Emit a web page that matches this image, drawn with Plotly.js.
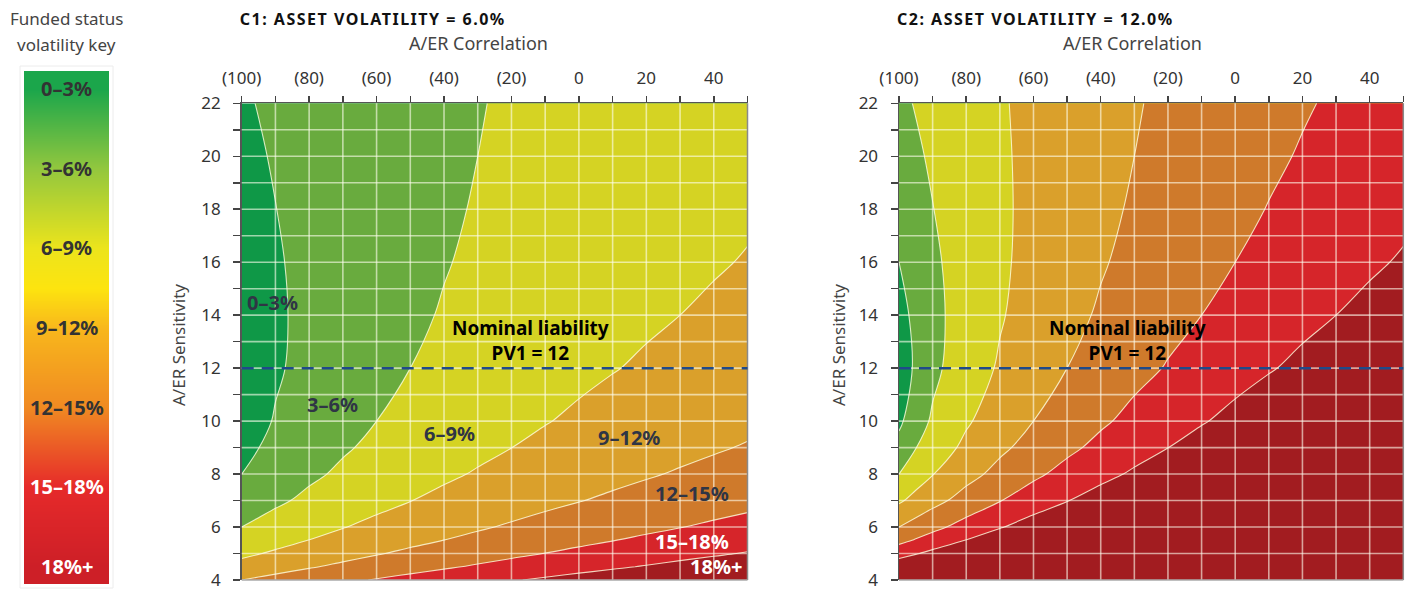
<!DOCTYPE html>
<html><head><meta charset="utf-8">
<script src="https://cdn.plot.ly/plotly-3.0.1.min.js"></script>
<style>html,body{margin:0;padding:0;background:#fff;} #chart{width:1411px;height:593px;}</style>
</head><body><div id="chart"></div>
<script>
// A/ER correlation (x) and A/ER sensitivity (y) grid
const correlation = [-100,-95,-90,-80,-70,-60,-50,-40,-30,-20,-10,0,10,20,30,40,50];
const sensitivity = [4,4.5,5,5.5,6,7,8,9,10,12,14,16,18,20,22];

// Funded status volatility (%) — C1: asset volatility 6.0%
const fsVolC1 = [
 [12.00,12.44,12.87,13.68,14.45,15.18,15.87,16.54,17.18,17.80,18.40,18.97,19.53,20.08,20.61,21.13,21.63],
 [10.00,10.47,10.92,11.76,12.55,13.30,14.00,14.67,15.31,15.92,16.52,17.09,17.64,18.18,18.70,19.20,19.70],
 [8.40,8.90,9.37,10.25,11.06,11.82,12.53,13.20,13.84,14.45,15.04,15.60,16.14,16.67,17.18,17.68,18.16],
 [7.09,7.62,8.12,9.04,9.87,10.64,11.35,12.02,12.66,13.26,13.84,14.40,14.94,15.45,15.95,16.44,16.91],
 [6.00,6.57,7.10,8.05,8.90,9.67,10.39,11.06,11.70,12.30,12.87,13.42,13.94,14.45,14.94,15.41,15.87],
 [4.29,4.95,5.54,6.56,7.44,8.23,8.95,9.61,10.24,10.82,11.38,11.91,12.42,12.90,13.37,13.83,14.27],
 [3.00,3.79,4.45,5.53,6.43,7.23,7.94,8.59,9.20,9.77,10.31,10.82,11.30,11.77,12.22,12.66,13.08],
 [2.00,2.97,3.69,4.82,5.73,6.51,7.21,7.85,8.44,8.99,9.51,10.00,10.47,10.92,11.35,11.76,12.17],
 [1.20,2.40,3.18,4.33,5.23,6.00,6.68,7.30,7.87,8.40,8.90,9.37,9.82,10.25,10.67,11.06,11.45],
 [0.00,1.90,2.68,3.79,4.65,5.37,6.00,6.57,7.10,7.59,8.05,8.49,8.90,9.30,9.67,10.04,10.39],
 [0.86,1.95,2.63,3.62,4.39,5.04,5.62,6.15,6.63,7.08,7.50,7.90,8.28,8.65,9.00,9.33,9.66],
 [1.50,2.22,2.77,3.61,4.30,4.88,5.41,5.89,6.33,6.74,7.13,7.50,7.85,8.19,8.51,8.82,9.12],
 [2.00,2.53,2.97,3.69,4.29,4.82,5.29,5.73,6.13,6.51,6.87,7.21,7.54,7.85,8.15,8.44,8.72],
 [2.40,2.81,3.18,3.79,4.33,4.80,5.23,5.63,6.00,6.35,6.68,7.00,7.30,7.59,7.87,8.14,8.40],
 [2.73,3.07,3.37,3.91,4.38,4.81,5.20,5.57,5.91,6.23,6.54,6.83,7.12,7.39,7.65,7.90,8.15]
];

// Funded status volatility (%) — C2: asset volatility 12.0%
const fsVolC2 = [
 [24.00,24.88,25.74,27.36,28.90,30.36,31.74,33.08,34.36,35.60,36.80,37.94,39.06,40.16,41.22,42.26,43.26],
 [20.00,20.94,21.84,23.52,25.10,26.60,28.00,29.34,30.62,31.84,33.04,34.18,35.28,36.36,37.40,38.40,39.40],
 [16.80,17.80,18.74,20.50,22.12,23.64,25.06,26.40,27.68,28.90,30.08,31.20,32.28,33.34,34.36,35.36,36.32],
 [14.18,15.24,16.24,18.08,19.74,21.28,22.70,24.04,25.32,26.52,27.68,28.80,29.88,30.90,31.90,32.88,33.82],
 [12.00,13.14,14.20,16.10,17.80,19.34,20.78,22.12,23.40,24.60,25.74,26.84,27.88,28.90,29.88,30.82,31.74],
 [8.58,9.90,11.08,13.12,14.88,16.46,17.90,19.22,20.48,21.64,22.76,23.82,24.84,25.80,26.74,27.66,28.54],
 [6.00,7.58,8.90,11.06,12.86,14.46,15.88,17.18,18.40,19.54,20.62,21.64,22.60,23.54,24.44,25.32,26.16],
 [4.00,5.94,7.38,9.64,11.46,13.02,14.42,15.70,16.88,17.98,19.02,20.00,20.94,21.84,22.70,23.52,24.34],
 [2.40,4.80,6.36,8.66,10.46,12.00,13.36,14.60,15.74,16.80,17.80,18.74,19.64,20.50,21.34,22.12,22.90],
 [0.00,3.80,5.36,7.58,9.30,10.74,12.00,13.14,14.20,15.18,16.10,16.98,17.80,18.60,19.34,20.08,20.78],
 [1.72,3.90,5.26,7.24,8.78,10.08,11.24,12.30,13.26,14.16,15.00,15.80,16.56,17.30,18.00,18.66,19.32],
 [3.00,4.44,5.54,7.22,8.60,9.76,10.82,11.78,12.66,13.48,14.26,15.00,15.70,16.38,17.02,17.64,18.24],
 [4.00,5.06,5.94,7.38,8.58,9.64,10.58,11.46,12.26,13.02,13.74,14.42,15.08,15.70,16.30,16.88,17.44],
 [4.80,5.62,6.36,7.58,8.66,9.60,10.46,11.26,12.00,12.70,13.36,14.00,14.60,15.18,15.74,16.28,16.80],
 [5.46,6.14,6.74,7.82,8.76,9.62,10.40,11.14,11.82,12.46,13.08,13.66,14.24,14.78,15.30,15.80,16.30]
];

const levelStart = 3, levelEnd = 18, levelStep = 3;
const bandColors = ['#0f9847','#69ab3e','#d5d323','#daa02b','#cf7a2b','#d6252a','#a21c20'];
const bandLabels = ['0–3%','3–6%','6–9%','9–12%','12–15%','15–18%','18%+'];
const nominalPV1 = 12;

const xTickVals = [-100,-90,-80,-70,-60,-50,-40,-30,-20,-10,0,10,20,30,40,50];
const xTickText = ['(100)','','(80)','','(60)','','(40)','','(20)','','0','','20','','40',''];
const yTickVals = [4,5,6,7,8,9,10,11,12,13,14,15,16,17,18,19,20,21,22];
const yTickText = ['4','','6','','8','','10','','12','','14','','16','','18','','20','','22'];
const gridX = [-90,-80,-70,-60,-50,-40,-30,-20,-10,0,10,20,30,40];
const gridY = [5,6,7,8,9,10,11,12,13,14,15,16,17,18,19,20,21];

// colour key
const keyPositions = [0,0.5,1,1.5,2,2.5,3,3.5,4,4.5,5,5.5,6];
const keyStops = [0,1,2,2.5,3,4,5,6];
const keyStopColors = ['#1ba64b','#92c73e','#ece41c','#fde40f','#f8b71c','#f08a22','#e62a2a','#cd1f27'];

const FONT = 'Noto Sans, Open Sans, sans-serif';
const bandScale = bandColors.map((c,i)=>[i/(bandColors.length-1), c]);
const keyScale = keyStops.map((s,i)=>[s/6, keyStopColors[i]]);

function contourTrace(z, xa, ya) {
  return {type:'contour', x: correlation, y: sensitivity, z: z, xaxis: xa, yaxis: ya,
    autocontour:false, contours:{start:levelStart, end:levelEnd, size:levelStep, coloring:'fill', showlines:true},
    line:{color:'rgba(255,255,225,0.8)', width:1.1, smoothing:1},
    colorscale: bandScale, showscale:false, hoverinfo:'skip'};
}

const keyTrace = {type:'heatmap', x:[-0.25,0.25], y:keyPositions, z:keyPositions.map(v=>[v,v]),
  zmin:0, zmax:6, colorscale:keyScale, zsmooth:'best', showscale:false, xaxis:'x3', yaxis:'y3', hoverinfo:'skip'};

function xAxis(domain, anchor) {
  return {domain, anchor, range:[-100,50], side:'top', tickmode:'array', tickvals:xTickVals, ticktext:xTickText,
    ticks:'outside', ticklen:6, tickwidth:1.5, tickcolor:'#444', showgrid:false, zeroline:false,
    showline:true, linecolor:'#555', linewidth:1.5, tickfont:{family:FONT, size:17, color:'#333'}, ticklabelstandoff:5,
    ticklabeloverflow:'allow', fixedrange:true};
}
function yAxis(domain, anchor) {
  return {domain, anchor, range:[4,22], tickmode:'array', tickvals:yTickVals, ticktext:yTickText,
    ticks:'outside', ticklen:7, tickwidth:1.5, tickcolor:'#444', showgrid:false, zeroline:false,
    showline:true, linecolor:'#555', linewidth:1.5, tickfont:{family:FONT, size:17, color:'#333'}, ticklabelstandoff:9,
    ticklabeloverflow:'allow', fixedrange:true};
}

const gridColor = 'rgba(255,255,240,0.6)';
function plotShapes(xa, ya) {
  const s = [];
  gridX.forEach(v => s.push({type:'line', xref:xa, yref:ya+' domain', x0:v, x1:v, y0:0, y1:1, layer:'above', line:{color:gridColor, width:1.6}}));
  gridY.forEach(v => s.push({type:'line', xref:xa+' domain', yref:ya, x0:0, x1:1, y0:v, y1:v, layer:'above', line:{color:gridColor, width:1.6}}));
  s.push({type:'line', xref:xa+' domain', yref:ya+' domain', x0:1, x1:1, y0:0, y1:1, layer:'above', line:{color:'#8a8a8a', width:1.5}});
  s.push({type:'line', xref:xa+' domain', yref:ya+' domain', x0:0, x1:1, y0:0, y1:0, layer:'above', line:{color:'#aaa', width:1.5}});
  s.push({type:'line', xref:xa+' domain', yref:ya, x0:0, x1:1, y0:nominalPV1, y1:nominalPV1, layer:'above', line:{color:'#1f4a8a', width:2.5, dash:'12px,8px'}});
  return s;
}

const ann = [];
// key title + labels
ann.push({xref:'paper', yref:'paper', x:66/1411, y:1-18/593, text:'Funded status', showarrow:false, xanchor:'center', yanchor:'middle', font:{family:FONT, size:17, color:'#444'}});
ann.push({xref:'paper', yref:'paper', x:66/1411, y:1-44/593, text:'volatility key', showarrow:false, xanchor:'center', yanchor:'middle', font:{family:FONT, size:17, color:'#444'}});
bandLabels.forEach((t,i) => ann.push({xref:'x3', yref:'y3', x:0, y:i, text:'<b>'+t+'</b>', showarrow:false,
  font:{family:FONT, size:20, color: i < 5 ? '#333' : '#fff'}}));
// chart titles
ann.push({xref:'paper', yref:'paper', x:258/1411, y:1-19/593, text:'<b>C1: ASSET VOLATILITY = 6.0%</b>', showarrow:false, xanchor:'left', yanchor:'middle', font:{family:FONT, size:16, color:'#111'}});
ann.push({xref:'paper', yref:'paper', x:916/1411, y:1-19/593, text:'<b>C2: ASSET VOLATILITY = 12.0%</b>', showarrow:false, xanchor:'left', yanchor:'middle', font:{family:FONT, size:16, color:'#111'}});
ann.push({xref:'paper', yref:'paper', x:478/1411, y:1-43/593, text:'A/ER Correlation', showarrow:false, xanchor:'center', yanchor:'middle', font:{family:FONT, size:18, color:'#444'}});
ann.push({xref:'paper', yref:'paper', x:1132/1411, y:1-43/593, text:'A/ER Correlation', showarrow:false, xanchor:'center', yanchor:'middle', font:{family:FONT, size:18, color:'#444'}});
ann.push({xref:'paper', yref:'paper', x:178/1411, y:1-345/593, text:'A/ER Sensitivity', textangle:-90, showarrow:false, xanchor:'center', yanchor:'middle', font:{family:FONT, size:17, color:'#444'}});
ann.push({xref:'paper', yref:'paper', x:838/1411, y:1-345/593, text:'A/ER Sensitivity', textangle:-90, showarrow:false, xanchor:'center', yanchor:'middle', font:{family:FONT, size:17, color:'#444'}});
// nominal liability labels
ann.push({xref:'x', yref:'y', x:-14.5, y:13.06, text:'<b>Nominal liability<br>PV1 = 12</b>', showarrow:false, font:{family:FONT, size:19, color:'#000'}});
ann.push({xref:'x2', yref:'y2', x:-31.9, y:13.06, text:'<b>Nominal liability<br>PV1 = 12</b>', showarrow:false, font:{family:FONT, size:19, color:'#000'}});
// band labels on C1
const c1LabelPos = [[-91,14.46],[-73.2,10.61],[-38.5,9.53],[14.9,9.38],[33.6,7.25],[33.6,5.46],[40.7,4.5]];
bandLabels.forEach((t,i) => ann.push({xref:'x', yref:'y', x:c1LabelPos[i][0], y:c1LabelPos[i][1], text:'<b>'+t+'</b>', showarrow:false,
  font:{family:FONT, size:20, color: i < 5 ? '#2f3545' : '#fff'}}));

const plotBottom = 13/593, plotTop = 1-103.3/593;
const layout = {
  width:1411, height:593, margin:{l:0,r:0,t:0,b:0}, paper_bgcolor:'#fff', plot_bgcolor:'#fff', showlegend:false,
  xaxis: xAxis([241.7/1411, 747.5/1411], 'y'),
  yaxis: yAxis([plotBottom, plotTop], 'x'),
  xaxis2: xAxis([899/1411, 1403.3/1411], 'y2'),
  yaxis2: yAxis([plotBottom, plotTop], 'x2'),
  xaxis3: {domain:[24/1411, 109/1411], anchor:'y3', range:[-0.5,0.5], visible:false, fixedrange:true},
  yaxis3: {domain:[9/593, 1-71/593], anchor:'x3', range:[6.226,-0.226], visible:false, fixedrange:true},
  shapes: plotShapes('x','y').concat(plotShapes('x2','y2')).concat([
    {type:'rect', xref:'paper', yref:'paper', x0:20/1411, x1:113/1411, y0:5/593, y1:1-66/593, layer:'below', line:{color:'#ececec', width:1}}
  ]),
  annotations: ann
};

Plotly.newPlot('chart', [contourTrace(fsVolC1,'x','y'), contourTrace(fsVolC2,'x2','y2'), keyTrace], layout, {displayModeBar:false, staticPlot:true})
  .then(() => {
    document.querySelectorAll('.annotation-text').forEach(el => {
      if (/^C[12]: ASSET/.test(el.textContent)) el.style.letterSpacing = '1.5px';
    });
  });
</script>
</body></html>
